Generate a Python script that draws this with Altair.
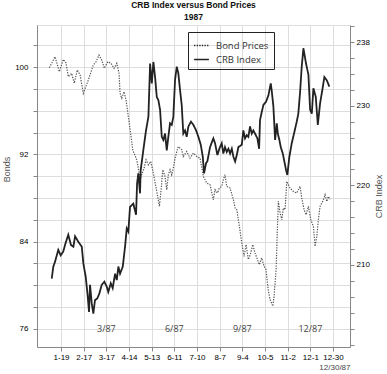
import altair as alt
import pandas as pd

# ---- data (trading-day index of 1987) ----
bond_day = [1.7, 6.7, 10.5, 14.0, 16.4, 18.4, 21.4, 23.7, 26.4, 28.8, 31.7, 36.1, 40.5, 42.9, 45.5,
            47.9, 50.2, 53.2, 56.1, 58.8, 61.2, 63.2, 64.1, 65.6, 67.6, 69.4, 71.4, 73.8, 75.3, 78.8,
            80.2, 81.7, 83.2, 85.3, 87.0, 89.1, 91.2, 93.5, 95.6, 97.3, 98.8, 100.3, 101.8, 103.8,
            105.3, 106.7, 108.2, 109.7, 111.1, 112.6, 114.6, 115.5, 118.5, 119.9, 122.9, 125.8,
            128.8, 131.8, 134.7, 137.6, 140.6, 143.5, 146.4, 147.9, 150.0, 151.7, 153.8, 155.2,
            156.7, 158.2, 161.2, 164.1, 165.6, 167.1, 169.4, 171.5, 173.5, 175.3, 177.3, 179.4,
            181.2, 183.2, 185.3, 187.0, 189.1, 191.2, 192.9, 194.1, 195.0, 196.5, 198.9, 200.0,
            201.8, 202.9, 203.8, 205.3, 206.8, 208.2, 209.7, 211.2, 214.1, 217.0, 220.0, 222.9,
            224.4, 226.5, 228.2, 230.3, 232.4, 234.7, 236.2, 237.7, 239.1, 240.6, 242.1, 243.5,
            245.0, 246.5, 247.9, 249.4]
bond_val = [99.94, 100.94, 99.57, 100.70, 100.37, 99.11, 99.42, 98.51, 99.73, 99.27, 97.60, 98.81,
            100.18, 100.48, 101.10, 100.64, 99.88, 100.48, 100.34, 99.88, 100.34, 99.42, 97.60,
            97.14, 97.74, 96.98, 95.46, 93.63, 92.41, 91.50, 90.74, 89.67, 90.13, 90.74, 91.50,
            91.04, 91.34, 90.28, 89.06, 88.14, 87.23, 88.76, 90.59, 89.97, 88.76, 90.13, 90.59,
            90.13, 90.74, 91.65, 92.41, 92.71, 92.41, 91.80, 92.26, 91.65, 92.11, 91.80, 91.65,
            89.97, 89.37, 89.21, 87.84, 88.76, 88.46, 88.91, 89.06, 89.67, 90.13, 89.06, 88.91,
            87.84, 87.08, 86.93, 85.40, 83.88, 82.66, 83.73, 82.36, 82.97, 83.73, 82.97, 82.36,
            81.90, 82.51, 81.75, 81.44, 80.23, 79.46, 78.70, 78.09, 79.00, 81.44, 85.10, 87.69,
            86.63, 86.01, 87.08, 86.93, 89.52, 88.91, 88.60, 88.46, 89.06, 88.00, 86.93, 86.47,
            87.23, 86.01, 85.40, 83.57, 84.49, 86.01, 87.23, 87.54, 87.84, 88.30, 87.69, 88.14,
            87.84]

crb_day = [3.8, 5.2, 6.7, 9.6, 11.7, 14.0, 15.5, 18.4, 20.8, 22.9, 24.4, 27.3, 30.3, 31.7, 33.8,
           35.6, 36.7, 37.6, 39.1, 40.5, 42.0, 44.0, 45.8, 47.9, 50.2, 52.3, 53.7, 55.9, 57.6,
           59.7, 61.2, 62.6, 64.1, 66.5, 68.5, 70.0, 71.4, 72.9, 75.8, 78.2, 79.1, 80.2, 81.7,
           82.3, 84.6, 87.0, 89.1, 90.6, 92.1, 93.5, 95.0, 96.5, 97.9, 99.4, 100.9, 102.3, 103.8,
           105.3, 106.7, 108.2, 109.7, 111.1, 112.6, 114.1, 115.5, 117.0, 118.5, 119.9, 121.4,
           122.9, 124.4, 126.7, 128.8, 131.2, 133.2, 135.3, 137.1, 138.2, 140.0, 141.1, 143.5,
           146.4, 147.9, 150.0, 151.7, 153.8, 155.2, 156.7, 158.2, 159.7, 161.2, 162.7, 164.1,
           165.6, 167.1, 168.5, 171.5, 172.9, 174.4, 175.9, 177.3, 178.8, 180.3, 181.7, 183.2,
           185.3, 186.8, 187.6, 189.1, 190.6, 192.9, 195.0, 197.1, 198.0, 199.4, 200.9, 202.4,
           203.3, 204.7, 205.9, 207.7, 208.8, 210.6, 211.7, 213.5, 215.6, 217.6, 220.0, 221.4,
           222.9, 224.4, 225.9, 228.2, 230.3, 231.8, 233.3, 234.7, 236.8, 238.6, 240.6, 242.6,
           244.4, 246.5, 248.8]
crb_val = [208.3, 209.8, 210.4, 211.9, 211.2, 211.7, 212.5, 213.8, 212.5, 212.3, 213.6, 212.9,
           212.3, 210.2, 208.5, 206.0, 204.1, 207.5, 205.2, 203.9, 205.6, 205.8, 206.4, 207.5,
           207.9, 207.3, 206.6, 207.7, 207.1, 208.9, 208.1, 209.8, 208.9, 209.8, 212.3, 214.6,
           214.2, 217.3, 217.7, 216.3, 220.2, 221.5, 219.0, 221.9, 224.4, 226.9, 228.6, 235.3,
           232.8, 235.5, 233.6, 231.1, 230.7, 229.5, 226.1, 225.7, 226.5, 224.4, 226.1, 227.8,
           227.6, 228.6, 233.2, 234.9, 234.1, 232.0, 230.1, 226.5, 226.9, 226.1, 227.4, 228.0,
           227.6, 226.9, 226.1, 225.1, 223.6, 221.5, 222.8, 223.0, 224.8, 225.9, 225.3, 223.8,
           224.6, 225.3, 224.0, 224.8, 224.2, 224.6, 224.0, 224.6, 223.6, 223.0, 223.8, 224.8,
           225.1, 226.9, 225.9, 226.3, 226.1, 227.4, 226.5, 226.9, 226.5, 225.9, 224.6, 228.2,
           229.2, 230.1, 230.5, 231.3, 232.8, 231.8, 229.9, 225.7, 227.8, 226.5, 225.7, 224.8,
           224.0, 223.2, 221.9, 221.3, 223.6, 225.3, 226.5, 228.0, 229.0, 231.6, 234.9, 237.2,
           235.3, 233.9, 229.5, 229.0, 232.2, 231.1, 227.6, 230.3, 232.0, 233.6, 233.2, 232.4]

tick_days = [12, 32, 52, 72, 92, 112, 132, 152, 172, 192, 212, 232, 252]
tick_labels = ["1-19", "2-17", "3-17", "4-14", "5-13", "6-11", "7-10", "8-7", "9-4",
               "10-5", "11-2", "12-1", "12-30"]
month_days = [52, 112, 172, 232]
month_labels = ["3/87", "6/87", "9/87", "12/87"]

series_names = ["Bond Prices", "CRB Index"]

bond_df = pd.DataFrame({"day": bond_day, "value": bond_val, "series": "Bond Prices"})
crb_df = pd.DataFrame({"day": crb_day, "value": crb_val, "series": "CRB Index"})
month_df = pd.DataFrame({"day": month_days, "label": month_labels})

FONT = "Open Sans"
label_arr = "[" + ",".join("'%s'" % t for t in tick_labels) + "]"

x_enc = alt.X(
    "day:Q",
    scale=alt.Scale(domain=[-9.2, 267], nice=False, zero=False),
    axis=alt.Axis(values=tick_days, labelExpr=label_arr + "[round((datum.value-12)/20)]",
                  tickSize=4, labelPadding=2, labelFontSize=8, title="12/30/87",
                  titleAnchor="end", titleFontSize=8, titleFontWeight="normal",
                  titlePadding=2, titleColor="#444", labelOverlap=False),
)

dash = alt.StrokeDash(
    "series:N",
    scale=alt.Scale(domain=series_names, range=[[1.3, 1.3], [1, 0]]),
    legend=alt.Legend(title=None, orient="none", legendX=151, legendY=7,
                      strokeColor="#222", padding=5, labelFontSize=9.5,
                      symbolType="stroke", symbolSize=220, symbolStrokeWidth=1.6,
                      symbolStrokeColor="#222", labelColor="#333", labelFont=FONT,
                      rowPadding=1, labelOffset=6),
)

bond = alt.Chart(bond_df).mark_line(color="#555", strokeWidth=1.2).encode(
    x=x_enc,
    y=alt.Y("value:Q",
            scale=alt.Scale(domain=[74.35, 103.85], nice=False, zero=False),
            axis=alt.Axis(orient="left", values=list(range(76, 103, 2)),
                          labelExpr="datum.value % 8 == 4 ? datum.label : ''",
                          tickSize=4, labelPadding=5, labelFontSize=8,
                          title="Bonds", titleFontSize=9, titleFontWeight="normal",
                          titleColor="#555", titlePadding=3, titleY=144)),
    strokeDash=dash,
)

crb = alt.Chart(crb_df).mark_line(color="#222", strokeWidth=1.8).encode(
    x=x_enc,
    y=alt.Y("value:Q",
            scale=alt.Scale(domain=[199.7, 240.14], nice=False, zero=False),
            axis=alt.Axis(orient="right", values=list(range(200, 241, 2)),
                          labelExpr="indexof([210,220,230,238], datum.value) >= 0 ? datum.label : ''",
                          tickSize=4, labelPadding=2, labelFontSize=8,
                          title="CRB Index", titleFontSize=9, titleFontWeight="normal",
                          titleColor="#555", titlePadding=14, titleAngle=270, titleY=171)),
    strokeDash=dash,
)

months = alt.Chart(month_df).mark_text(fontSize=9, color="#444", font=FONT).encode(
    x=x_enc,
    y=alt.value(304),
    text="label:N",
)

chart = alt.layer(months, bond, crb).resolve_scale(y="independent").properties(
    width=313,
    height=322,
    autosize=alt.AutoSizeParams(type="none"),
    padding={"left": 37, "top": 25, "right": 37, "bottom": 27},
    title=alt.TitleParams(text="CRB Index versus Bond Prices", subtitle="1987",
                          fontSize=8.5, subtitleFontSize=8.5, fontWeight="bold",
                          subtitleFontWeight="bold", font="Liberation Sans",
                          subtitleFont="Liberation Sans", color="#111",
                          subtitleColor="#111", anchor="middle", offset=4,
                          subtitlePadding=3),
).configure_view(stroke="#111", strokeWidth=1.5).configure_axis(
    grid=False, domainColor="#111", domainWidth=1.5, tickColor="#333",
    labelColor="#444", labelFont=FONT, titleFont=FONT,
).configure(background="white")

chart.save("out.html", embed_options={"renderer": "svg", "actions": False})
